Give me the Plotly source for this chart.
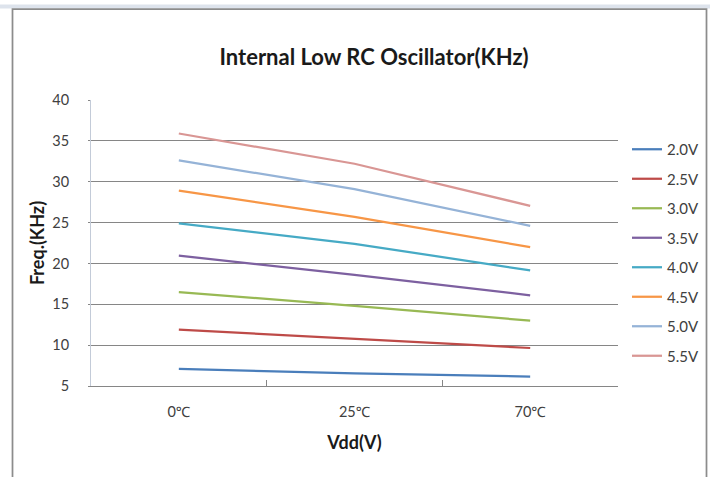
import plotly.graph_objects as go

categories = ["0℃", "25℃", "70℃"]
series_names = ["2.0V", "2.5V", "3.0V", "3.5V", "4.0V", "4.5V", "5.0V", "5.5V"]
v20 = [7.1, 6.55, 6.15]
v25 = [11.9, 10.75, 9.65]
v30 = [16.5, 14.8, 13.0]
v35 = [20.95, 18.6, 16.1]
v40 = [24.9, 22.4, 19.15]
v45 = [28.9, 25.7, 22.0]
v50 = [32.6, 29.1, 24.6]
v55 = [35.9, 32.2, 27.05]
series_values = [v20, v25, v30, v35, v40, v45, v50, v55]
colors = ["#4A7EBB", "#BE4B48", "#98B954", "#7D60A0", "#46AAC5", "#F79646", "#95B3D7", "#D99694"]
y_ticks = [5, 10, 15, 20, 25, 30, 35, 40]

FONT = "Lato, 'Noto Sans', 'Noto Sans CJK SC', sans-serif"

fig = go.Figure()
for name, vals, col in zip(series_names, series_values, colors):
    fig.add_trace(go.Scatter(
        x=categories, y=vals, name=name, mode="lines",
        line=dict(color=col, width=2.25), legendgroup=name,
    ))

W, H = 710, 477
L, R, T, B = 91, 618, 100, 386

def px_x(p):
    return (p - L) / (R - L)

def px_y(p):
    return (B - p) / (B - T)

shapes = [
    dict(type="rect", xref="paper", yref="paper", x0=px_x(-5), x1=px_x(715), y0=px_y(8.5), y1=px_y(4.5),
         fillcolor="#DDE3EC", line=dict(width=0), layer="below"),
    dict(type="rect", xref="paper", yref="paper", x0=px_x(12.5), x1=px_x(706.5), y0=px_y(490), y1=px_y(9),
         line=dict(color="#8C8C8C", width=1.75), fillcolor="rgba(0,0,0,0)"),
]

fig.update_layout(
    width=W, height=H,
    margin=dict(l=L, r=W - R, t=T, b=H - B, pad=0, autoexpand=False),
    paper_bgcolor="white", plot_bgcolor="white",
    font=dict(family=FONT, size=14, color="#404040"),
    title=dict(text="<b>Internal Low RC Oscillator(KHz)</b>", x=374 / W, xanchor="center",
               y=1 - 57 / H, yanchor="middle",
               font=dict(family=FONT, size=22, color="#1A1A1A")),
    showlegend=True,
    legend=dict(xref="container", yref="container",
                x=627 / W, xanchor="left", y=1 - 133 / H, yanchor="top",
                traceorder="grouped", tracegroupgap=7, maxheight=460,
                font=dict(family=FONT, size=15, color="#404040"),
                bgcolor="rgba(0,0,0,0)", itemwidth=30),
    shapes=shapes,
    xaxis=dict(
        type="category", range=[-0.5, 2.5],
        showgrid=False, showline=True, linecolor="#868686", linewidth=1,
        ticks="inside", ticklen=6, tickcolor="#868686", tickson="boundaries",
        tickfont=dict(family=FONT, size=14.5, color="#404040"),
        ticklabelstandoff=13,
        title=dict(text="<b>Vdd(V)</b>", font=dict(family=FONT, size=18, color="#1A1A1A"), standoff=16),
        zeroline=False, fixedrange=True,
    ),
    yaxis=dict(
        range=[5, 40], tickvals=y_ticks,
        showgrid=True, gridcolor="#868686", gridwidth=1,
        showline=True, linecolor="#C3CBD8", linewidth=1,
        ticks="outside", ticklen=2, tickcolor="#868686",
        tickfont=dict(family=FONT, size=14.5, color="#404040"),
        ticklabelstandoff=16,
        title=dict(text="<b>Freq.(KHz)</b>", font=dict(family=FONT, size=18, color="#1A1A1A"), standoff=2),
        zeroline=False, fixedrange=True,
    ),
)

fig.write_html("out.html", config={"displayModeBar": False},
               post_script="document.body.style.margin='0';document.body.style.overflow='hidden';")
